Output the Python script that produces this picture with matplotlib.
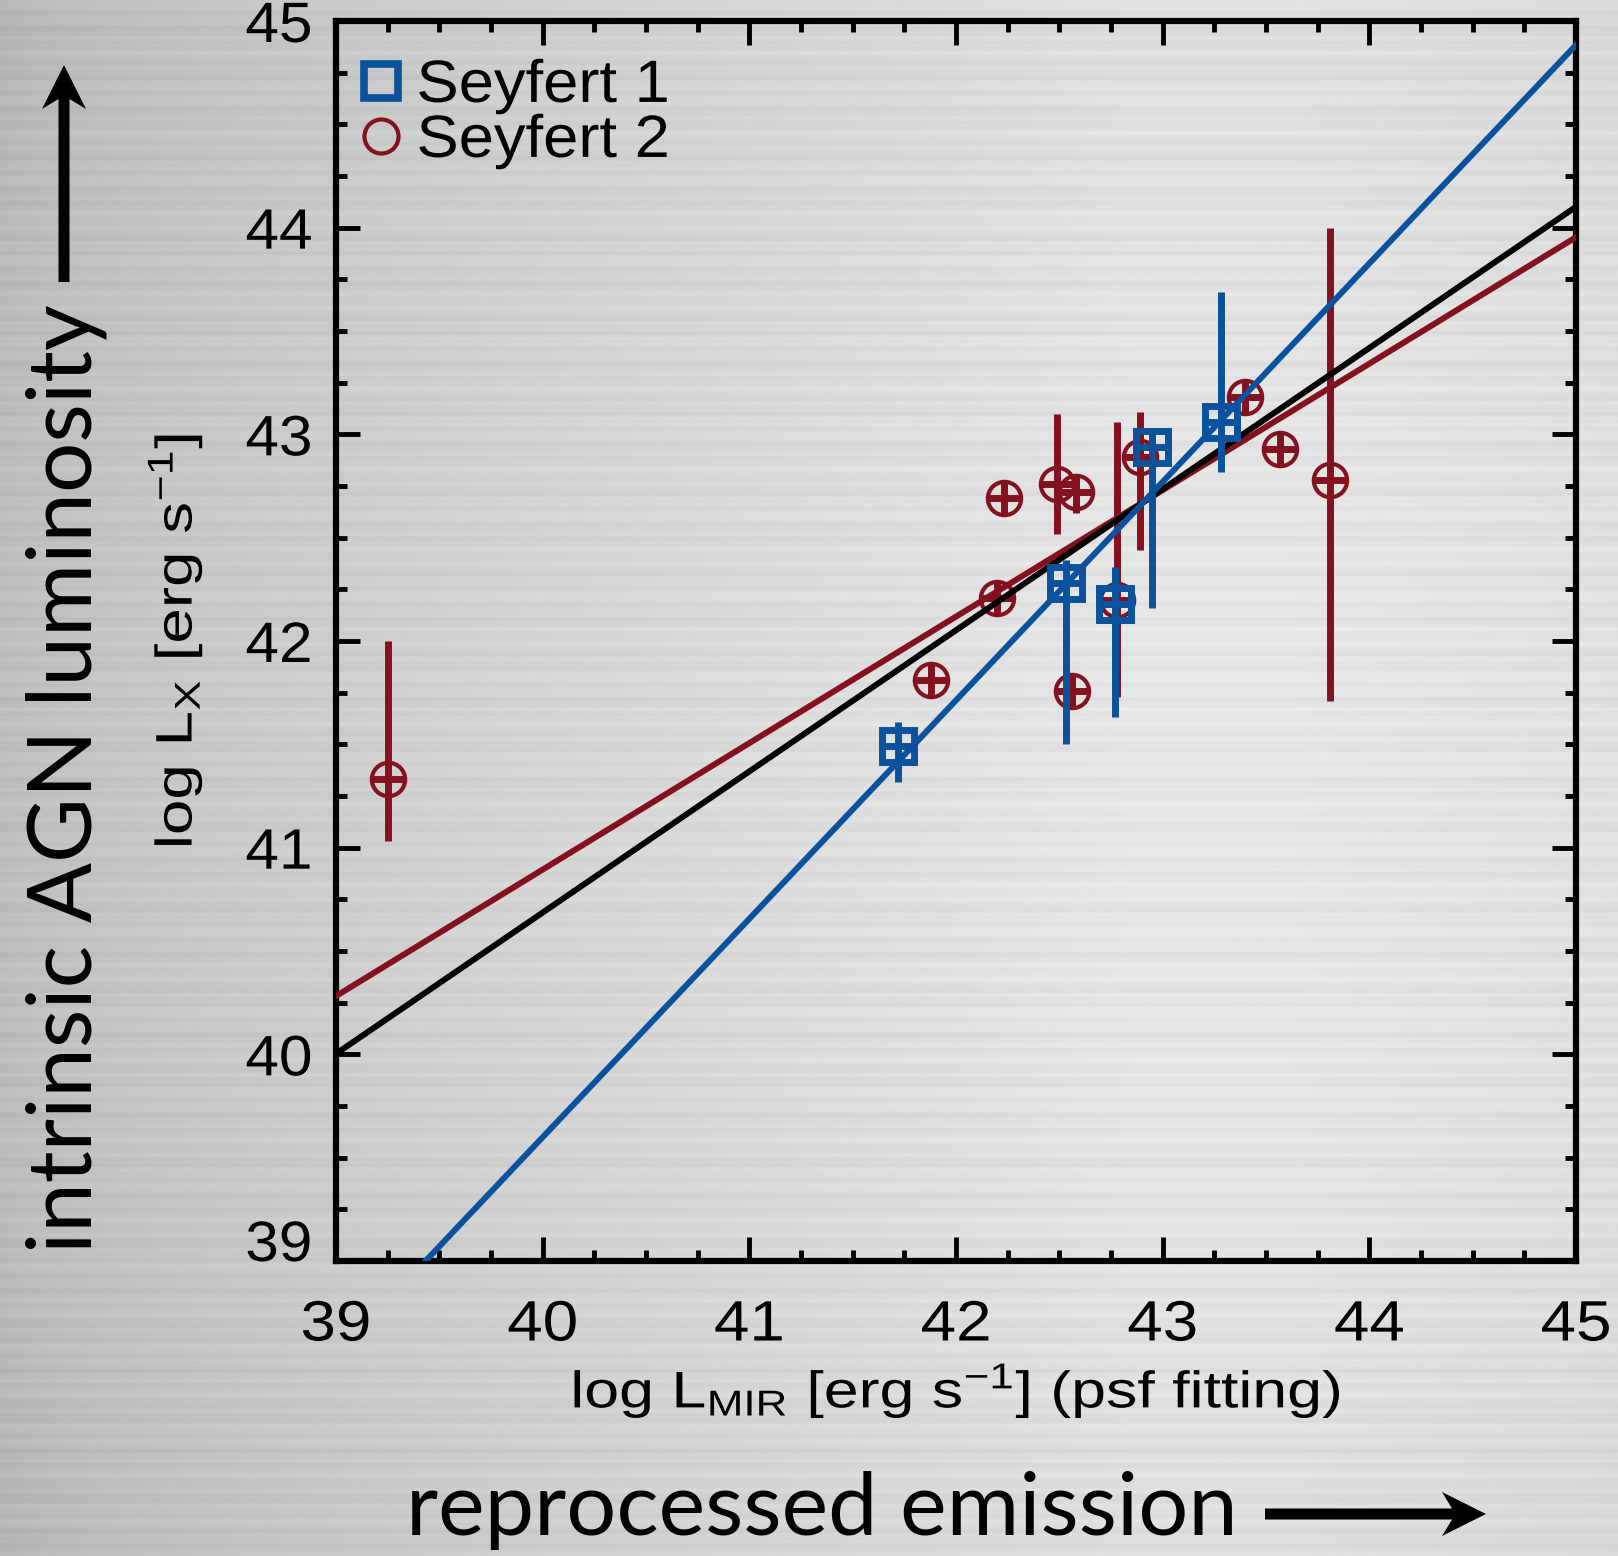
import numpy as np
import matplotlib
matplotlib.use("Agg")
import matplotlib.pyplot as plt
from matplotlib.lines import Line2D
from matplotlib.patches import Polygon
from matplotlib.patheffects import AbstractPathEffect
from matplotlib.ticker import MultipleLocator
from matplotlib.transforms import Affine2D

# Seyfert 1 (log L_MIR, log L_X, lower / upper y error)
sy1_x = [41.72, 42.53, 42.77, 42.95, 43.28]
sy1_y = [41.49, 42.28, 42.18, 42.94, 43.06]
sy1_elo = [0.17, 0.78, 0.55, 0.78, 0.24]
sy1_ehi = [0.12, 0.11, 0.18, 0.08, 0.63]

# Seyfert 2
sy2_x = [39.25, 41.88, 42.23, 42.20, 42.49, 42.58, 42.56, 42.78, 42.89, 43.40, 43.57, 43.81]
sy2_y = [41.33, 41.81, 42.69, 42.21, 42.76, 42.72, 41.76, 42.20, 42.89, 43.18, 42.93, 42.78]
sy2_elo = [0.30, 0.08, 0.08, 0.08, 0.24, 0.10, 0.08, 0.47, 0.45, 0.08, 0.08, 1.07]
sy2_ehi = [0.67, 0.08, 0.08, 0.08, 0.34, 0.08, 0.08, 0.86, 0.22, 0.08, 0.08, 1.22]
xerr = 0.08

# linear fits: log L_X = a + b * (log L_MIR - 43)
fit_all = (42.735, 0.683)
fit_sy1 = (42.77, 1.057)
fit_sy2 = (42.73, 0.612)

ticks = [39, 40, 41, 42, 43, 44, 45]

blue = "#0a529e"
red = "#84111f"


class Stretch(AbstractPathEffect):
    # widen glyphs along the text direction (the original font is a wide Helvetica)
    def __init__(self, sx, anchor="center"):
        super().__init__()
        self.sx = sx
        self.anchor = anchor

    def draw_path(self, renderer, gc, tpath, affine, rgbFace=None):
        ext = tpath.get_extents()
        x0 = {"left": ext.x0, "right": ext.x1, "center": 0.5 * (ext.x0 + ext.x1)}[self.anchor]
        st = Affine2D().translate(-x0, 0).scale(self.sx, 1).translate(x0, 0)
        renderer.draw_path(gc, tpath, st + affine, rgbFace)


plt.rcParams["font.family"] = ["Liberation Sans", "DejaVu Sans"]
plt.rcParams["mathtext.fontset"] = "custom"
plt.rcParams["mathtext.rm"] = "Liberation Sans"
plt.rcParams["mathtext.it"] = "Liberation Sans:italic"

W, H = 1618, 1556
fig = plt.figure(figsize=(W / 100, H / 100), dpi=100)

# brushed metal background
bg = fig.add_axes([0, 0, 1, 1], zorder=-10)
xx = np.linspace(0, 1, 400)
yy = np.linspace(0, 1, 600)
X, Y = np.meshgrid(xx, yy)
base = 0.71 + 0.16 * np.clip(X / 0.7, 0, 1) ** 0.7 - 0.02 * np.clip(X - 0.8, 0, 1) / 0.2
base += 0.03 * np.sin(np.pi * Y)
streak = 0.013 * np.sin(Y * 611.0) + 0.010 * np.sin(Y * 1337.0 + 1.3) + 0.007 * np.sin(Y * 233.0 + 0.4)
bg.imshow(np.clip(base + streak, 0, 1), cmap="gray", vmin=0, vmax=1, aspect="auto",
          extent=[0, 1, 0, 1], origin="upper")
bg.axis("off")

ax = fig.add_axes([336 / W, 1 - 1261 / H, 1240 / W, 1240 / H])
ax.set_facecolor("none")

xl = np.array([39.0, 45.0])

ax.errorbar(sy2_x, sy2_y, yerr=[sy2_elo, sy2_ehi], xerr=xerr, fmt="o", ms=24, mfc="none",
            mec=red, mew=3, ecolor=red, elinewidth=5, capsize=0, zorder=3)
ax.plot(xl, fit_sy2[0] + fit_sy2[1] * (xl - 43), color=red, lw=4.3, zorder=4)
ax.plot(xl, fit_all[0] + fit_all[1] * (xl - 43), color="black", lw=4.3, zorder=4)
ax.plot(xl, fit_sy1[0] + fit_sy1[1] * (xl - 43), color=blue, lw=4.3, zorder=5)
ax.errorbar(sy1_x, sy1_y, yerr=[sy1_elo, sy1_ehi], xerr=xerr, fmt="s", ms=23, mfc="none",
            mec=blue, mew=5, ecolor=blue, elinewidth=5, capsize=0, zorder=6)

ax.set_xlim(39, 45)
ax.set_ylim(39, 45)
ax.set_xticks(ticks)
ax.set_yticks(ticks)
ax.xaxis.set_minor_locator(MultipleLocator(0.25))
ax.yaxis.set_minor_locator(MultipleLocator(0.25))
ax.tick_params(which="both", direction="in", top=True, right=True, width=3.5, labelsize=41)
ax.tick_params(which="major", length=17)
ax.tick_params(which="minor", length=8)
ax.tick_params(axis="x", pad=27)
ax.tick_params(axis="y", pad=17)
for s in ax.spines.values():
    s.set_linewidth(4.5)
for t in ax.xaxis.get_major_ticks():
    t.label1.set_path_effects([Stretch(1.12, "center")])
for t in ax.yaxis.get_major_ticks():
    t.label1.set_path_effects([Stretch(1.06, "right")])
ax.yaxis.get_major_ticks()[0].label1.set_va("baseline")

ax.set_xlabel(r"log L$_{\mathrm{MIR}}$ [erg s$^{-1}$] (psf fitting)", fontsize=37,
              path_effects=[Stretch(1.22)])
ax.set_ylabel(r"log L$_{\mathrm{X}}$ [erg s$^{-1}$]", fontsize=37, path_effects=[Stretch(1.24)])
ax.xaxis.set_label_coords(0.5, -0.080)
ax.yaxis.set_label_coords(-0.105, 0.5)

handles = [
    Line2D([], [], marker="s", ls="none", ms=24, mfc="none", mec=blue, mew=5.5),
    Line2D([], [], marker="o", ls="none", ms=24.5, mfc="none", mec=red, mew=3),
]
leg = ax.legend(handles, ["Seyfert 1", "Seyfert 2"], loc="upper left", frameon=False, fontsize=43,
                handlelength=0.8, handletextpad=0.2, labelspacing=0.0, borderaxespad=0.0,
                borderpad=0.3, bbox_to_anchor=(3 / 1240, 1 - 20 / 1240))
for txt in leg.get_texts():
    txt.set_path_effects([Stretch(1.06, "left")])

# big annotation labels with arrows
fig.text(67 / W, 1 - 779 / H, "intrinsic AGN luminosity", rotation=90, ha="center", va="center",
         fontsize=64, family=["Lato", "DejaVu Sans"])
fig.text(822 / W, 1 - 1510 / H, "reprocessed emission", ha="center", va="center",
         fontsize=63.5, family=["Lato", "DejaVu Sans"])


def arrow(x0, y0, x1, y1):
    # notched arrow polygon in pixel units (y measured from top)
    p0 = np.array([x0, H - y0], float)
    p1 = np.array([x1, H - y1], float)
    d = (p1 - p0) / np.hypot(*(p1 - p0))
    n = np.array([-d[1], d[0]])
    hw, hl, sw, notch = 22, 44, 5.5, 10
    pts = [p0 + n * sw, p1 - d * (hl - notch) + n * sw, p1 - d * hl + n * hw, p1,
           p1 - d * hl - n * hw, p1 - d * (hl - notch) - n * sw, p0 - n * sw]
    pts = np.array(pts) / 100.0
    fig.add_artist(Polygon(pts, closed=True, color="black", lw=0, transform=fig.dpi_scale_trans))


arrow(64, 282, 64, 65)
arrow(1265, 1514, 1486, 1514)

plt.savefig("out.png", dpi=100)
plt.close(fig)
